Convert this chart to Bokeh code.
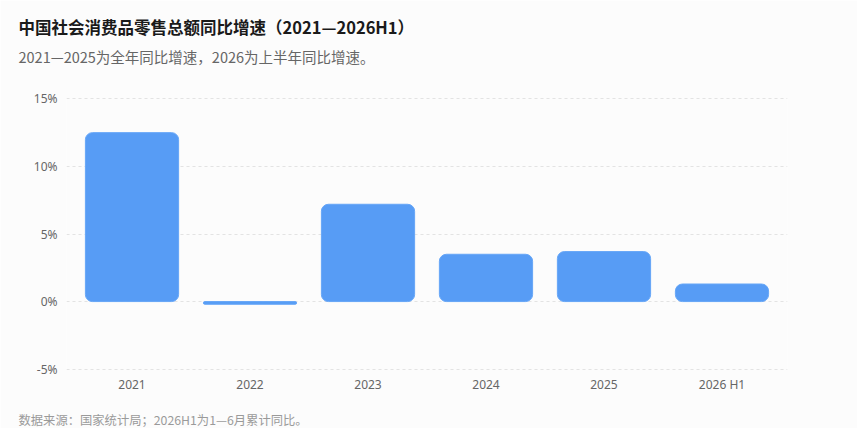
from bokeh.plotting import figure
from bokeh.models import ColumnDataSource, Title, FixedTicker, CustomJSTickFormatter
from bokeh.embed import file_html
from bokeh.resources import INLINE

categories = ["2021", "2022", "2023", "2024", "2025", "2026 H1"]
growth = [12.5, -0.2, 7.2, 3.5, 3.7, 1.3]
y_ticks = [-5, 0, 5, 10, 15]

title_text = "中国社会消费品零售总额同比增速（2021—2026H1）"
subtitle_text = "2021—2025为全年同比增速，2026为上半年同比增速。"
footer_text = "数据来源：国家统计局；2026H1为1—6月累计同比。"

FONT = "Noto Sans CJK SC"
TICK_FONT = "Noto Sans"
BG = "#fcfcfc"

src = ColumnDataSource(dict(cat=categories, val=growth))

p = figure(x_range=categories, y_range=(-5.1, 15.1), width=857, height=428,
           title=None, output_backend="svg", toolbar_location=None,
           min_border_left=66, min_border_right=70, min_border_top=97, min_border_bottom=58)
p.x_range.range_padding = 0.0184
p.background_fill_color = BG
p.border_fill_color = BG
p.outline_line_color = None

p.vbar(x="cat", top="val", bottom=0, width=0.79, source=src,
       fill_color="#579cf5", line_color="#66a6f7", line_width=1, border_radius=7)

p.xgrid.grid_line_color = None
p.ygrid.grid_line_color = "#e3e3e3"
p.ygrid.grid_line_dash = "3 3"
p.ygrid.grid_line_width = 1

p.yaxis.ticker = FixedTicker(ticks=y_ticks)
p.yaxis.formatter = CustomJSTickFormatter(code="return tick + '%';")
for ax in (p.xaxis[0], p.yaxis[0]):
    ax.axis_line_color = None
    ax.major_tick_line_color = None
    ax.minor_tick_line_color = None
    ax.major_tick_out = 0
    ax.major_tick_in = 0
    ax.minor_tick_out = 0
    ax.minor_tick_in = 0
    ax.major_label_text_font = TICK_FONT
    ax.major_label_text_font_size = "12px"
    ax.major_label_text_color = "#666666"
p.yaxis.major_label_standoff = 9
p.xaxis.major_label_standoff = 5

def spacer(gap):
    return Title(text=" ", text_font_size="1px", standoff=gap, text_color=BG)

sub = Title(text=subtitle_text, align="left", offset=-48, standoff=10,
            text_font=FONT, text_font_size="14.5px", text_color="#666666",
            text_font_style="normal")
main = Title(text=title_text, align="left", offset=-48, standoff=0,
             text_font=FONT, text_font_size="16.5px", text_color="#1a1a1a",
             text_font_style="bold")
p.add_layout(spacer(22.5), "above")
p.add_layout(sub, "above")
p.add_layout(main, "above")

foot = Title(text=footer_text, align="left", offset=-48, standoff=0,
             text_font=FONT, text_font_size="12.3px", text_color="#9a9a9a",
             text_font_style="normal")
p.add_layout(spacer(10), "below")
p.add_layout(foot, "below")

open("out.html", "w").write(file_html(p, INLINE))
